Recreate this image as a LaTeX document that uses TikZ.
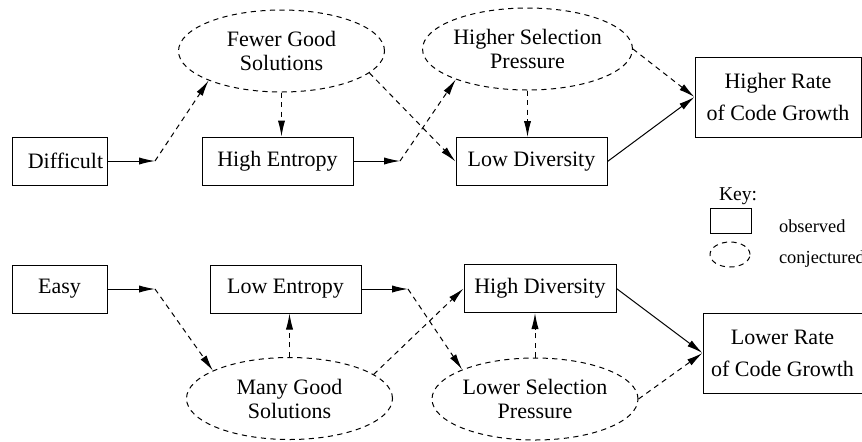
\documentclass[tikz,border=0pt]{standalone}
\usepackage{fontspec}
\setmainfont{Liberation Serif}
\usetikzlibrary{arrows.meta,shapes.geometric}

\begin{document}
\begin{tikzpicture}[x=0.5pt,y=-0.5pt,>={Latex[length=8pt,width=3.6pt]},
  font=\fontsize{11}{12}\selectfont,
  obs/.style={draw,line width=0.5pt,minimum height=24pt,inner sep=1pt},
  conj/.style={draw,line width=0.5pt,dash pattern=on 2.6pt off 2.2pt,ellipse,align=center,
    minimum width=103pt,minimum height=41pt,inner sep=0pt},
  keytext/.style={anchor=base west,font=\fontsize{9.2}{11}\selectfont},
  link/.style={line width=0.5pt,->},
  guess/.style={line width=0.5pt,dash pattern=on 2.6pt off 2.2pt,->}]
  \useasboundingbox (0,0) rectangle (862,441);

  % difficult problems
  \node[obs,minimum width=47.5pt] (diff) at (59.5,161) {\hspace*{6pt}Difficult};
  \node[obs,minimum width=75.5pt] (hient) at (277.5,161) {High Entropy};
  \node[obs,minimum width=75.5pt] (lodiv) at (531.5,161.5) {Low Diversity};
  \node[obs,minimum width=83pt,minimum height=40pt,align=center] (hirate) at (778,97) {Higher Rate\\[4pt]of Code Growth};
  \node[conj] (fewer) at (281.5,51) {Fewer Good\\Solutions};
  \node[conj] (hisel) at (527.5,49) {Higher Selection\\Pressure};
  \coordinate (j1) at (155,161);
  \coordinate (j2) at (400,161);

  \draw[link] (diff) -- (j1);
  \draw[guess] (j1) -- (fewer.202);
  \draw[guess] (fewer.south) -- (fewer.south |- hient.north);
  \draw[link] (hient) -- (j2);
  \draw[guess] (j2) -- (hisel.203);
  \draw[guess] (fewer.346) -- (lodiv.west);
  \draw[guess] (hisel.south) -- (hisel.south |- lodiv.north);
  \draw[guess] (hisel.east) -- (hirate.west);
  \draw[link] (lodiv.east) -- (hirate.west);

  % easy problems
  \node[obs,minimum width=47.5pt] (easy) at (59.5,289) {Easy};
  \node[obs,minimum width=75.5pt] (loent) at (285.5,289) {Low Entropy};
  \node[obs,minimum width=76pt] (hidiv) at (540,288.5) {High Diversity};
  \node[obs,minimum width=79.5pt,minimum height=40pt,align=center] (lorate) at (782.5,353) {Lower Rate\\[4pt]of Code Growth};
  \node[conj] (many) at (289.5,398.5) {Many Good\\Solutions};
  \node[conj] (losel) at (535,399) {Lower Selection\\Pressure};
  \coordinate (j3) at (155,289);
  \coordinate (j4) at (408,289);

  \draw[link] (easy) -- (j3);
  \draw[guess] (j3) -- (many.160);
  \draw[guess] (many.north) -- (many.north |- loent.south);
  \draw[link] (loent) -- (j4);
  \draw[guess] (j4) -- (losel.158);
  \draw[guess] (many.16) -- (hidiv.west);
  \draw[guess] (losel.north) -- (losel.north |- hidiv.south);
  \draw[guess] (losel.east) -- (lorate.west);
  \draw[link] (hidiv.east) -- (lorate.west);

  % key
  \node[keytext,font=\fontsize{9.8}{11}\selectfont] (key) at (712,200) {Key:};
  \node[draw,line width=0.5pt,minimum width=20.5pt,minimum height=12.5pt,inner sep=0pt] (keybox) at (730.5,220.5) {};
  \node[draw,line width=0.5pt,dash pattern=on 2.6pt off 2.2pt,ellipse,minimum width=20pt,minimum height=12.5pt,inner sep=0pt] (keyell) at (730,254.5) {};
  \node[keytext] (keyobs) at (772,232) {observed};
  \node[keytext] (keyconj) at (772,263) {conjectured};
\end{tikzpicture}
\end{document}
